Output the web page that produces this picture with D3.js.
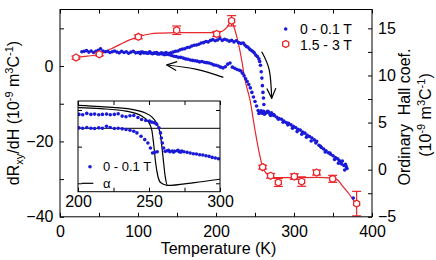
<!DOCTYPE html>
<html>
<head>
<meta charset="utf-8">
<script src="https://cdn.jsdelivr.net/npm/d3@7"></script>
<style>
  body { margin: 0; background: #fff; }
  svg { display: block; font-family: "Liberation Sans", Arial, Helvetica, sans-serif; }
</style>
</head>
<body>
<svg id="chart" width="436" height="260"></svg>
<script>
// ---- main plot: 0 - 0.1 T (dR/dH, left axis) ----
const heatT = [28,31,34,37,40,43,46,49,52,55,58,61,64,67,70,73,76,79,82,85,88,91,94,97,100,103,106,109,112,115,118,121,124,127,130,133,136,139,142,145,
  148,151,154,157,160,163,166,169,172,175,178,181,184,187,190,193,196,199,202,205,208,211,214,217,220,223,226,229,232,235,
  237,239,241,243,245,247,249,251,253,255,256,257,258,258.8,259.5,260.2,260.8,261.4];
const heatV = [3.8,3.9,4.1,3.7,4.0,3.6,3.9,4.2,4.6,4.0,3.8,3.9,3.6,3.8,4.0,3.7,3.5,3.9,3.6,3.8,3.4,3.7,3.9,3.5,3.6,3.3,3.7,3.5,3.4,3.8,3.3,3.5,3.6,3.2,3.5,3.4,3.6,3.3,3.5,3.7,
  3.9,4.0,4.3,4.5,4.6,4.9,5.0,5.3,5.5,5.6,5.8,6.1,6.2,6.5,6.4,6.8,7.0,6.7,6.9,7.3,6.8,7.1,6.9,6.6,6.8,6.4,6.7,6.2,6.0,6.1,
  5.6,5.2,5.0,4.5,4.2,3.9,3.5,2.9,2.5,1.9,1.2,0.2,-1.5,-3.2,-5.2,-7.0,-8.5,-10.2];

const coolT = [256,254,252,250,248,246,244,242,240,238,236,234,232,230,227,224,221,218,215,212,209,206,203,200,
  197,194,191,188,185,182,179,176,173,170,167,164,161,158,155,152,149,146,143,140,137,134,131,128,125,122,119,116,113,110,107,104,101];
const coolV = [-12.4,-11.8,-10.6,-9.4,-8.2,-7.0,-5.8,-4.9,-4.1,-3.4,-2.6,-1.9,-1.3,-1.1,-0.9,-0.6,-0.3,0.8,0.5,-0.2,-0.5,-0.3,0.0,0.2,
  0.3,0.6,0.8,0.9,1.0,1.2,1.1,1.3,1.4,1.5,1.6,1.8,1.9,2.1,2.3,2.3,2.5,2.6,2.8,3.0,3.1,3.0,3.2,3.3,3.2,3.4,3.3,3.5,3.4,3.6,3.5,3.7,3.6];

const hiT = [255,257,259,261,263,265,267,269,271,273,275,278,281,284,287,290,293,296,299,302,305,308,311,314,317,320,323,326,329,332,335,338,341,344,347,350,353,356,358,360,362,364,366,368];
const hiV = [-12.6,-12.2,-12.5,-12.0,-12.6,-12.3,-12.1,-12.7,-12.4,-13.0,-13.2,-13.6,-13.9,-14.1,-14.6,-15.0,-15.2,-15.6,-16.0,-16.3,-16.8,
  -17.0,-17.5,-17.8,-18.4,-18.7,-19.1,-19.6,-20.0,-21.0,-21.6,-22.0,-22.5,-23.0,-23.4,-23.8,-24.3,-24.6,-25.1,-25.5,-25.2,-26.4,-26.1,-27.2];
const hiT2 = [258,262,266,270,274,280,286,292,298,304,310,316,322,328,334,340,346,352,357,361,365,367,376];
const hiV2 = [-11.9,-12.8,-12.0,-13.1,-12.9,-14.1,-14.9,-15.6,-16.5,-17.4,-18.1,-18.9,-19.9,-20.4,-21.3,-22.8,-23.1,-24.8,-25.8,-26.0,-27.6,-26.7,-35.0];

// ---- main plot: 1.5 - 3 T (ordinary Hall coef., right axis) ----
const redT = [20.5,50.4,100.4,149.6,200.9,220,259.8,270,279.9,300.4,309.8,329,349.6,380.3];
const redV = [11.9,12.25,14.1,14.8,14.4,15.8,0.27,-0.65,-1.36,-0.73,-1.26,-0.3,-0.97,-3.6];
const redErr = [0.15,0.15,0.2,0.45,0.27,0.55,0.2,0.25,0.42,0.3,0.5,0.27,0.37,1.3];
const redCurveT = [20.5,35,50.4,65,77,90,100.4,115,130,150,170,190,201,208,214,220,224,229,233,237,243.6,250,256.4,259.8,265,272,280,300,329,350,356,363,370,376,380.3];
const redCurveV = [11.9,12.05,12.25,12.8,13.3,13.8,14.1,14.4,14.5,14.55,14.55,14.55,14.55,14.7,15.1,15.8,14.9,13.3,11.6,9.6,7.4,4.2,1.4,0.27,-0.44,-0.75,-0.85,-0.85,-0.82,-0.9,-1.1,-1.8,-2.5,-3.2,-3.6];

// arrows (data coords, left axis)
const arrowCoolT = [209.4,175.3,136.8];
const arrowCoolV = [-3.0,-0.88,0.27];
const arrowHeatT = [258.6,268.3,271.4];
const arrowHeatV = [3.8,-1.06,-8.56];

// ---- inset ----
const insHeatT = [200.7,203.3,206.2,209.1,211.7,214.6,217.2,220.1,222.7,225.6,228.3,231.1,233.8,236.6,239.3,242.2,244.8,247.7,250.3,251.9,253.6,255.4,257.0,258.1,258.7,259.4,260.3];
const insHeatV = [-1.21,-1.31,-0.94,-1.21,-1.12,-1.31,-1.21,-1.12,-1.31,-1.21,-1.03,-1.67,-1.86,-1.58,-1.49,-2.04,-2.59,-2.86,-3.05,-3.32,-3.50,-3.87,-4.88,-6.25,-7.63,-9.0,-10.38];
const insPlatT = [261.4,262.9,264.7,266.4,268.0,269.8,271.3,273.1,274.6,276.8,279.0,281.2,283.4,285.7,287.9,290.1,292.3,294.5,296.7,298.9,263.8,267.2,270.5,272.4];
const insPlatV = [-11.29,-11.11,-11.38,-11.2,-11.29,-11.11,-11.38,-11.2,-11.38,-11.56,-11.75,-11.93,-12.02,-12.2,-12.3,-12.48,-12.66,-12.94,-13.12,-13.3,-11.0,-11.5,-11.0,-11.5];
const insCoolT = [200.7,203.3,206.2,209.1,211.7,214.6,217.2,220.1,222.7,225.6,228.3,231.1,233.8,236.6,239.3,241.5,244.4,247.0,249.2,251.0,252.5,254.1,255.8];
const insCoolV = [-4.88,-4.97,-4.79,-4.97,-5.06,-4.88,-4.97,-4.42,-4.79,-5.06,-4.97,-5.15,-5.34,-5.52,-5.79,-6.25,-7.17,-8.08,-9.0,-10.38,-11.75,-11.56,-11.38];
const alphaInT = [200,216,233.8,244.8,249.2,251.9,253.2,254.7,256.3,258.1,263];
const alphaInV = [0.62,0.35,-0.3,-1.66,-3.05,-5.34,-9.0,-14.5,-18.15,-19.8,-20.6];
const alphaOutT = [200,216,238,247,252.5,255.8,258,259.8,261.4,263,282,300];
const alphaOutV = [1.25,0.9,0.16,-0.77,-2.1,-3.95,-6.7,-12.6,-18.1,-20.6,-19.8,-18.9];
const insRefLine = -5;

// ticks
const xTicks = [0,50,100,150,200,250,300,350,400];
const xLabels = [0,100,200,300,400];
const yLTicks = [-40,-30,-20,-10,0,10];
const yLLabels = [-40,-20,0];
const yRTicks = [-5,-2.5,0,2.5,5,7.5,10,12.5,15];
const yRLabels = [-5,0,5,10,15];
const insXTicks = [200,225,250,275,300];
const insXLabels = [200,250,300];
const insYTicks = [-20,-10,0];

const BLUE = "#1a1ad8", RED = "#e8262b";
const FONT = '"Liberation Sans", Arial, Helvetica, sans-serif';

const svg = d3.select("#chart");

const x = d3.scaleLinear().domain([0, 400]).range([60, 372]);
const yL = d3.scaleLinear().domain([-40, 15]).range([216.8, 9.5]);
const yR = d3.scaleLinear().domain([-5, 17]).range([216.8, 9.5]);

const ix = d3.scaleLinear().domain([200, 300]).range([78, 220]);
const iy = d3.scaleLinear().domain([-22.3, 2.45]).range([191.7, 101]);

const zip = (a, b) => a.map((d, i) => [d, b[i]]);

const hexagon = {
  draw(ctx, size) {
    const r = Math.sqrt(size / 2.598);
    for (let i = 0; i < 6; i++) {
      const a = Math.PI / 3 * i - Math.PI / 2;
      i ? ctx.lineTo(r * Math.cos(a), r * Math.sin(a)) : ctx.moveTo(r * Math.cos(a), r * Math.sin(a));
    }
    ctx.closePath();
  }
};
const hexPath = d3.symbol().type(hexagon).size(32)();

// arrow marker
const defs = svg.append("defs");
defs.append("marker")
  .attr("id", "arr").attr("markerUnits", "userSpaceOnUse")
  .attr("viewBox", "-1 -6 12 12").attr("refX", 10).attr("refY", 0)
  .attr("markerWidth", 12).attr("markerHeight", 12).attr("orient", "auto")
  .append("path").attr("d", "M0,-4.5L10,0L0,4.5")
  .attr("fill", "none").attr("stroke", "#000").attr("stroke-width", 1.2);

defs.append("clipPath").attr("id", "insClip")
  .append("rect").attr("x", 78).attr("y", 101).attr("width", 142).attr("height", 90.7);

// ---- red curve ----
svg.append("path")
  .datum(zip(redCurveT, redCurveV))
  .attr("fill", "none").attr("stroke", RED).attr("stroke-width", 1.2)
  .attr("d", d3.line().x(d => x(d[0])).y(d => yR(d[1])).curve(d3.curveMonotoneX));

// ---- blue dots ----
const blueData = [].concat(zip(heatT, heatV), zip(coolT, coolV), zip(hiT, hiV), zip(hiT2, hiV2));
svg.append("g").selectAll("circle").data(blueData).join("circle")
  .attr("cx", d => x(d[0])).attr("cy", d => yL(d[1])).attr("r", 1.8).attr("fill", BLUE);

// ---- red markers + error bars ----
const redData = redT.map((t, i) => ({ t, v: redV[i], e: redErr[i] }));
const eb = svg.append("g").attr("stroke", RED).attr("stroke-width", 1.2);
redData.forEach(d => {
  const cx = x(d.t), y0 = yR(d.v - d.e), y1 = yR(d.v + d.e);
  eb.append("line").attr("x1", cx).attr("x2", cx).attr("y1", y0).attr("y2", y1);
  eb.append("line").attr("x1", cx - 4.5).attr("x2", cx + 4.5).attr("y1", y0).attr("y2", y0);
  eb.append("line").attr("x1", cx - 4.5).attr("x2", cx + 4.5).attr("y1", y1).attr("y2", y1);
});
svg.append("g").selectAll("path").data(redData).join("path")
  .attr("d", hexPath)
  .attr("transform", d => `translate(${x(d.t)},${yR(d.v)})`)
  .attr("fill", "#fff").attr("stroke", RED).attr("stroke-width", 1.3);

// ---- arrows ----
const arrowLine = d3.line().x(d => x(d[0])).y(d => yL(d[1])).curve(d3.curveNatural);
[zip(arrowCoolT, arrowCoolV), zip(arrowHeatT, arrowHeatV)].forEach(a => {
  svg.append("path").datum(a).attr("d", arrowLine)
    .attr("fill", "none").attr("stroke", "#000").attr("stroke-width", 1.2)
    .attr("marker-end", "url(#arr)");
});

// ---- main legend ----
const lg = svg.append("g").attr("font-family", FONT).attr("font-size", 14);
lg.append("circle").attr("cx", 285.7).attr("cy", 29).attr("r", 1.8).attr("fill", BLUE);
lg.append("text").attr("x", 300).attr("y", 34).text("0 - 0.1 T");
lg.append("path").attr("d", hexPath).attr("transform", "translate(285.7,44)")
  .attr("fill", "#fff").attr("stroke", RED).attr("stroke-width", 1.3);
lg.append("text").attr("x", 300).attr("y", 49.5).text("1.5 - 3 T");

// ---- axes ----
function styleAxis(g, size) {
  g.select(".domain").remove();
  g.attr("font-family", FONT).attr("font-size", size);
  g.selectAll("line").attr("stroke", "#000");
  g.selectAll("text").attr("fill", "#000");
}
const fmt = d3.format("d");

svg.append("g").attr("transform", `translate(0,${yL(-40)})`)
  .call(d3.axisBottom(x).tickValues(xTicks).tickSize(-4).tickPadding(8.8)
    .tickFormat(d => xLabels.includes(d) ? fmt(d) : ""))
  .call(g => styleAxis(g, 16));
svg.append("g").attr("transform", `translate(0,${yL(15)})`)
  .call(d3.axisTop(x).tickValues(xTicks).tickSize(-4).tickFormat(""))
  .call(g => styleAxis(g, 16));
svg.append("g").attr("transform", `translate(${x(0)},0)`)
  .call(d3.axisLeft(yL).tickValues(yLTicks).tickSize(-4).tickPadding(6.5)
    .tickFormat(d => yLLabels.includes(d) ? fmt(d) : ""))
  .call(g => styleAxis(g, 16));
svg.append("g").attr("transform", `translate(${x(400)},0)`)
  .call(d3.axisRight(yR).tickValues(yRTicks).tickSize(-4).tickPadding(6)
    .tickFormat(d => yRLabels.includes(d) ? fmt(d) : ""))
  .call(g => styleAxis(g, 16));

svg.append("rect").attr("x", x(0)).attr("y", yL(15))
  .attr("width", x(400) - x(0)).attr("height", yL(-40) - yL(15))
  .attr("fill", "none").attr("stroke", "#000").attr("stroke-width", 1);

// ---- inset ----
const ins = svg.append("g");
ins.append("rect").attr("x", 78).attr("y", 101).attr("width", 142).attr("height", 90.7).attr("fill", "#fff");
const insData = ins.append("g").attr("clip-path", "url(#insClip)");
insData.append("line")
  .attr("x1", ix(200)).attr("x2", ix(300)).attr("y1", iy(insRefLine)).attr("y2", iy(insRefLine))
  .attr("stroke", "#000").attr("stroke-width", 1);
const alphaLine = d3.line().x(d => ix(d[0])).y(d => iy(d[1])).curve(d3.curveMonotoneX);
[zip(alphaInT, alphaInV), zip(alphaOutT, alphaOutV)].forEach(a => {
  insData.append("path").datum(a).attr("d", alphaLine)
    .attr("fill", "none").attr("stroke", "#000").attr("stroke-width", 1.2);
});
const insBlue = [].concat(zip(insHeatT, insHeatV), zip(insPlatT, insPlatV), zip(insCoolT, insCoolV));
insData.append("g").selectAll("circle").data(insBlue).join("circle")
  .attr("cx", d => ix(d[0])).attr("cy", d => iy(d[1])).attr("r", 1.8).attr("fill", BLUE);

ins.append("g").attr("transform", `translate(0,${iy.range()[0]})`)
  .call(d3.axisBottom(ix).tickValues(insXTicks).tickSize(-4).tickPadding(3.5)
    .tickFormat(d => insXLabels.includes(d) ? fmt(d) : ""))
  .call(g => styleAxis(g, 16));
ins.append("g").attr("transform", `translate(0,${iy.range()[1]})`)
  .call(d3.axisTop(ix).tickValues(insXTicks).tickSize(-4).tickFormat(""))
  .call(g => styleAxis(g, 16));
ins.append("g").attr("transform", `translate(${ix(200)},0)`)
  .call(d3.axisLeft(iy).tickValues(insYTicks).tickSize(-4).tickFormat(""))
  .call(g => styleAxis(g, 16));
ins.append("g").attr("transform", `translate(${ix(300)},0)`)
  .call(d3.axisRight(iy).tickValues(insYTicks).tickSize(-4).tickFormat(""))
  .call(g => styleAxis(g, 16));
ins.append("rect").attr("x", 78).attr("y", 101).attr("width", 142).attr("height", 90.7)
  .attr("fill", "none").attr("stroke", "#000").attr("stroke-width", 1);

// inset legend
const il = ins.append("g").attr("font-family", FONT).attr("font-size", 13);
il.append("circle").attr("cx", 90).attr("cy", 166.7).attr("r", 1.8).attr("fill", BLUE);
il.append("text").attr("x", 103).attr("y", 171.3).text("0 - 0.1 T");
il.append("line").attr("x1", 81.7).attr("x2", 93.3).attr("y1", 183.3).attr("y2", 183.3)
  .attr("stroke", "#000").attr("stroke-width", 1.2);
il.append("text").attr("x", 103).attr("y", 187.5).text("α");

// ---- axis titles ----
svg.append("text").attr("x", 218.5).attr("y", 254).attr("text-anchor", "middle")
  .attr("font-family", FONT).attr("font-size", 16).text("Temperature (K)");

function unitSpans(t) {
  t.append("tspan").text("(10");
  t.append("tspan").attr("dy", -6).attr("font-size", 11).text("-9");
  t.append("tspan").attr("dy", 6).text(" m");
  t.append("tspan").attr("dy", -6).attr("font-size", 11).text("3");
  t.append("tspan").attr("dy", 6).text("C");
  t.append("tspan").attr("dy", -6).attr("font-size", 11).text("-1");
  t.append("tspan").attr("dy", 6).text(")");
}

const yl = svg.append("text").attr("transform", "translate(18.5,113) rotate(-90)")
  .attr("text-anchor", "middle").attr("font-family", FONT).attr("font-size", 16);
yl.append("tspan").text("dR");
yl.append("tspan").attr("dy", 4).attr("font-size", 11).text("xy");
yl.append("tspan").attr("dy", -4).text("/dH ");
unitSpans(yl);

svg.append("text").attr("transform", "translate(410,117) rotate(-90)")
  .attr("text-anchor", "middle").attr("font-family", FONT).attr("font-size", 16)
  .text("Ordinary  Hall coef.").attr("xml:space", "preserve").style("white-space", "pre");
const yr2 = svg.append("text").attr("transform", "translate(431,115) rotate(-90)")
  .attr("text-anchor", "middle").attr("font-family", FONT).attr("font-size", 16);
unitSpans(yr2);
</script>
</body>
</html>
